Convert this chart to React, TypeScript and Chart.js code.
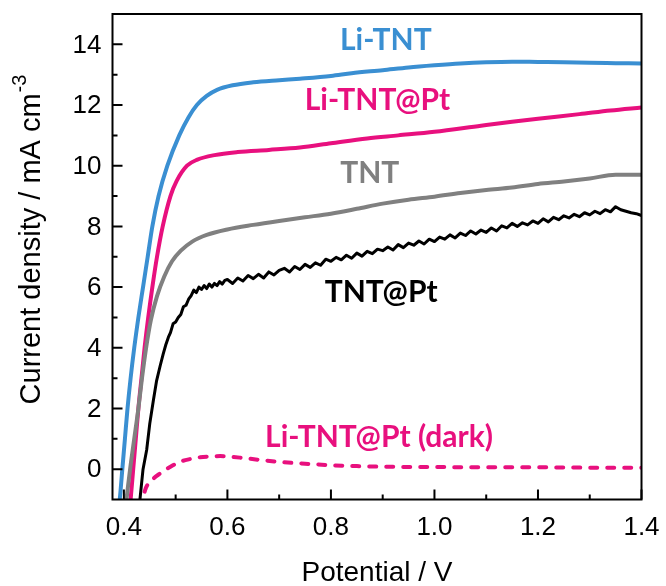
import { useEffect, useRef } from "react";
import { Chart, registerables } from "chart.js";

Chart.register(...registerables);

// Axis ranges (potential in V, current density in mA cm^-3)
const X_MIN = 0.378;
const X_MAX = 1.4;
const Y_MIN = -1;
const Y_MAX = 15;

const xMajorTicks = [0.4, 0.6, 0.8, 1.0, 1.2, 1.4];
const xTickLabels = ["0.4", "0.6", "0.8", "1.0", "1.2", "1.4"];
const xMinorTicks = [0.5, 0.7, 0.9, 1.1, 1.3];
const yMajorTicks = [0, 2, 4, 6, 8, 10, 12, 14];
const yTickLabels = ["0", "2", "4", "6", "8", "10", "12", "14"];
const yMinorTicks = [1, 3, 5, 7, 9, 11, 13];

// [potential, current density]
const liTnt: [number, number][] = [
  [0.388, -1.5], [0.392, -1], [0.397, 0], [0.402, 1], [0.407, 2], [0.413, 3],
  [0.42, 4], [0.428, 5], [0.437, 6], [0.446, 7], [0.455, 8], [0.467, 9],
  [0.484, 10], [0.507, 11], [0.525, 11.6], [0.541, 12], [0.56, 12.3],
  [0.58, 12.5], [0.61, 12.65], [0.65, 12.75], [0.7, 12.82], [0.74, 12.87],
  [0.8, 12.96], [0.84, 13.05], [0.9, 13.15], [0.95, 13.24], [1.0, 13.31],
  [1.05, 13.37], [1.1, 13.41], [1.15, 13.43], [1.2, 13.42], [1.25, 13.41],
  [1.3, 13.39], [1.35, 13.38], [1.4, 13.37],
];

const liTntPt: [number, number][] = [
  [0.41, -1.5], [0.413, -1], [0.418, 0], [0.423, 1], [0.428, 2], [0.434, 3],
  [0.44, 4], [0.447, 5], [0.455, 6], [0.464, 7], [0.475, 8], [0.49, 9],
  [0.502, 9.5], [0.522, 10], [0.542, 10.2], [0.575, 10.35], [0.62, 10.45],
  [0.68, 10.52], [0.74, 10.6], [0.8, 10.74], [0.87, 10.9], [0.93, 11.0],
  [1.0, 11.12], [1.09, 11.32], [1.15, 11.45], [1.2, 11.55], [1.28, 11.7],
  [1.34, 11.82], [1.4, 11.92],
];

const tnt: [number, number][] = [
  [0.402, -1.5], [0.405, -1], [0.412, 0], [0.42, 1], [0.428, 2], [0.435, 3],
  [0.443, 4], [0.452, 4.9], [0.464, 5.7], [0.478, 6.35], [0.493, 6.85],
  [0.51, 7.2], [0.532, 7.5], [0.56, 7.72], [0.6, 7.9], [0.65, 8.05],
  [0.7, 8.18], [0.75, 8.3], [0.8, 8.42], [0.85, 8.58], [0.9, 8.75],
  [0.95, 8.88], [1.0, 8.98], [1.05, 9.1], [1.1, 9.2], [1.15, 9.28],
  [1.2, 9.4], [1.25, 9.48], [1.3, 9.58], [1.35, 9.7], [1.4, 9.7],
];

const tntPt: [number, number][] = [
  [0.428, -1.5], [0.431, -1], [0.437, 0], [0.444, 0.63], [0.45, 1.5],
  [0.457, 2.27], [0.463, 2.9], [0.47, 3.4], [0.476, 3.8], [0.481, 4.1],
  [0.486, 4.35], [0.49, 4.5], [0.495, 4.79], [0.5, 4.85], [0.505, 5.0],
  [0.51, 5.1], [0.515, 5.35], [0.52, 5.4], [0.525, 5.6], [0.53, 5.72],
  [0.535, 5.9], [0.54, 5.82], [0.545, 6.0], [0.55, 5.92], [0.555, 6.05],
  [0.56, 5.95], [0.565, 6.1], [0.57, 6.0], [0.575, 6.12], [0.58, 6.05],
  [0.585, 6.18], [0.59, 6.1], [0.595, 6.22], [0.6, 6.25], [0.61, 6.12],
  [0.62, 6.3], [0.63, 6.2], [0.64, 6.38], [0.65, 6.28], [0.66, 6.42],
  [0.67, 6.3], [0.68, 6.5], [0.69, 6.4], [0.7, 6.55], [0.71, 6.62],
  [0.72, 6.5], [0.73, 6.68], [0.74, 6.58], [0.75, 6.75], [0.76, 6.65],
  [0.77, 6.8], [0.78, 6.72], [0.79, 6.92], [0.8, 6.85], [0.81, 6.98],
  [0.82, 6.9], [0.83, 7.05], [0.84, 6.95], [0.85, 7.12], [0.86, 7.02],
  [0.87, 7.18], [0.88, 7.1], [0.89, 7.25], [0.9, 7.2], [0.91, 7.32],
  [0.92, 7.22], [0.93, 7.4], [0.94, 7.3], [0.95, 7.45], [0.96, 7.38],
  [0.97, 7.52], [0.98, 7.42], [0.99, 7.58], [1.0, 7.5], [1.01, 7.65],
  [1.02, 7.58], [1.03, 7.72], [1.04, 7.62], [1.05, 7.78], [1.06, 7.7],
  [1.07, 7.85], [1.08, 7.75], [1.09, 7.88], [1.1, 7.8], [1.11, 7.95],
  [1.12, 7.85], [1.13, 8.02], [1.14, 7.95], [1.15, 8.1], [1.16, 8.0],
  [1.17, 8.12], [1.18, 8.05], [1.19, 8.18], [1.2, 8.1], [1.21, 8.25],
  [1.22, 8.15], [1.23, 8.3], [1.24, 8.22], [1.25, 8.35], [1.26, 8.28],
  [1.27, 8.4], [1.28, 8.32], [1.29, 8.45], [1.3, 8.38], [1.31, 8.5],
  [1.32, 8.42], [1.33, 8.55], [1.34, 8.48], [1.35, 8.65], [1.36, 8.55],
  [1.37, 8.5], [1.38, 8.45], [1.39, 8.42], [1.4, 8.36],
];

const liTntPtDark: [number, number][] = [
  [0.434, -1.3], [0.437, -1], [0.441, -0.69], [0.455, -0.35], [0.47, -0.14],
  [0.49, 0.08], [0.508, 0.24], [0.527, 0.33], [0.547, 0.39], [0.567, 0.42],
  [0.586, 0.43], [0.605, 0.41], [0.624, 0.38], [0.66, 0.31], [0.7, 0.24],
  [0.75, 0.18], [0.8, 0.13], [0.85, 0.1], [0.9, 0.08], [1.0, 0.07],
  [1.1, 0.06], [1.2, 0.06], [1.3, 0.05], [1.4, 0.05],
];

const BLUE = "#3a8fd2";
const PINK = "#e8107e";
const GRAY = "#808080";
const BLACK = "#000000";

// Curve names placed at [potential, current density] (text baseline)
const curveNames = ["Li-TNT", "Li-TNT@Pt", "TNT", "TNT@Pt", "Li-TNT@Pt (dark)"];
const curveNameColors = [BLUE, PINK, GRAY, BLACK, PINK];
const curveNameAnchors: [number, number][] = [
  [0.906, 13.82], [0.89, 11.84], [0.875, 9.43], [0.897, 5.51], [0.893, 0.73],
];

const toPoints = (arr: [number, number][]) => arr.map(([x, y]) => ({ x, y }));

const framePlugin = {
  id: "frameAndLabels",
  afterDatasetsDraw(chart: any) {
    const { ctx, chartArea: a, scales } = chart;
    const xs = scales.x;
    const ys = scales.y;
    ctx.save();
    ctx.strokeStyle = "#000";
    ctx.lineWidth = 2;
    ctx.strokeRect(a.left, a.top, a.right - a.left, a.bottom - a.top);

    ctx.beginPath();
    xMajorTicks.forEach((v) => {
      const px = xs.getPixelForValue(v);
      ctx.moveTo(px, a.bottom);
      ctx.lineTo(px, a.bottom - 10);
    });
    xMinorTicks.forEach((v) => {
      const px = xs.getPixelForValue(v);
      ctx.moveTo(px, a.bottom);
      ctx.lineTo(px, a.bottom - 5);
    });
    yMajorTicks.forEach((v) => {
      const py = ys.getPixelForValue(v);
      ctx.moveTo(a.left, py);
      ctx.lineTo(a.left + 10, py);
    });
    yMinorTicks.forEach((v) => {
      const py = ys.getPixelForValue(v);
      ctx.moveTo(a.left, py);
      ctx.lineTo(a.left + 5, py);
    });
    ctx.stroke();

    // tick labels
    ctx.fillStyle = "#000";
    ctx.font = "26px 'Liberation Sans', Arial, sans-serif";
    ctx.textAlign = "center";
    ctx.textBaseline = "alphabetic";
    xMajorTicks.forEach((v, i) => {
      ctx.fillText(xTickLabels[i], xs.getPixelForValue(v), a.bottom + 35);
    });
    ctx.textAlign = "right";
    ctx.textBaseline = "middle";
    yMajorTicks.forEach((v, i) => {
      ctx.fillText(yTickLabels[i], a.left - 11, ys.getPixelForValue(v) + 1);
    });

    // axis titles
    ctx.textBaseline = "alphabetic";
    ctx.textAlign = "center";
    ctx.font = "28px 'Liberation Sans', Arial, sans-serif";
    ctx.fillText("Potential / V", (a.left + a.right) / 2, 581);

    ctx.save();
    ctx.translate(40, 240);
    ctx.rotate(-Math.PI / 2);
    const mainFont = "29px 'Liberation Sans', Arial, sans-serif";
    const supFont = "20px 'Liberation Sans', Arial, sans-serif";
    const mainText = "Current density / mA cm";
    const supText = "-3";
    ctx.font = mainFont;
    const wMain = ctx.measureText(mainText).width;
    ctx.font = supFont;
    const wSup = ctx.measureText(supText).width;
    const start = -(wMain + wSup) / 2;
    ctx.textAlign = "left";
    ctx.font = mainFont;
    ctx.fillText(mainText, start, 0);
    ctx.font = supFont;
    ctx.fillText(supText, start + wMain + 1, -14);
    ctx.restore();

    // curve names
    ctx.font = "bold 30px Lato, 'Open Sans', sans-serif";
    ctx.textAlign = "center";
    curveNames.forEach((name, i) => {
      const [vx, vy] = curveNameAnchors[i];
      ctx.fillStyle = curveNameColors[i];
      ctx.fillText(name, xs.getPixelForValue(vx), ys.getPixelForValue(vy));
    });
    ctx.restore();
  },
};

export default function App() {
  const canvasRef = useRef<HTMLCanvasElement | null>(null);

  useEffect(() => {
    const canvas = canvasRef.current;
    if (!canvas) return;
    const chart = new Chart(canvas, {
      type: "line",
      data: {
        datasets: [
          {
            label: "TNT@Pt",
            data: toPoints(tntPt),
            borderColor: BLACK,
            borderWidth: 3,
            borderJoinStyle: "round",
            tension: 0,
          },
          {
            label: "TNT",
            data: toPoints(tnt),
            borderColor: GRAY,
            borderWidth: 4,
            cubicInterpolationMode: "monotone",
          },
          {
            label: "Li-TNT",
            data: toPoints(liTnt),
            borderColor: BLUE,
            borderWidth: 4,
            cubicInterpolationMode: "monotone",
          },
          {
            label: "Li-TNT@Pt",
            data: toPoints(liTntPt),
            borderColor: PINK,
            borderWidth: 4,
            cubicInterpolationMode: "monotone",
          },
          {
            label: "Li-TNT@Pt (dark)",
            data: toPoints(liTntPtDark),
            borderColor: PINK,
            borderWidth: 4,
            borderDash: [7, 10],
            borderCapStyle: "round",
            cubicInterpolationMode: "monotone",
          },
        ] as any,
      },
      options: {
        animation: false,
        responsive: false,
        devicePixelRatio: 1,
        layout: { padding: { top: 14, right: 24.5, left: 0, bottom: 0 } },
        elements: { point: { radius: 0, hoverRadius: 0 } },
        plugins: {
          legend: { display: false },
          tooltip: { enabled: false },
        },
        events: [],
        scales: {
          x: {
            type: "linear",
            min: X_MIN,
            max: X_MAX,
            grid: { display: false },
            border: { display: false },
            ticks: { display: false },
            afterFit: (s: any) => {
              s.height = 86.5;
            },
          },
          y: {
            type: "linear",
            min: Y_MIN,
            max: Y_MAX,
            grid: { display: false },
            border: { display: false },
            ticks: { display: false },
            afterFit: (s: any) => {
              s.width = 112.5;
            },
          },
        },
      },
      plugins: [framePlugin],
    });
    return () => chart.destroy();
  }, []);

  return (
    <div
      style={{
        position: "absolute",
        left: 0,
        top: 0,
        width: 666,
        height: 586,
        background: "#fff",
      }}
    >
      <canvas ref={canvasRef} width={666} height={586} style={{ display: "block" }} />
    </div>
  );
}
